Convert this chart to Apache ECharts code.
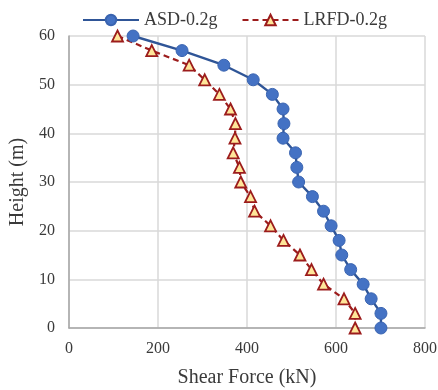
<!DOCTYPE html>
<html>
<head>
<meta charset="utf-8">
<script src="https://cdn.jsdelivr.net/npm/echarts@6/dist/echarts.min.js"></script>
<style>
  html, body { margin: 0; padding: 0; background: #fff; }
  #chart { width: 438px; height: 390px; }
</style>
</head>
<body>
<div id="chart"></div>
<script>
// Heights (m), top to bottom
const heights = [60, 57, 54, 51, 48, 45, 42, 39, 36, 33, 30, 27, 24, 21, 18, 15, 12, 9, 6, 3, 0];
// Shear force (kN) at each height
const asdShear = [144, 254, 348, 414, 457, 481, 483, 481, 509, 512, 516, 547, 572, 589, 607, 613, 633, 661, 679, 701, 701];
const lrfdShear = [109, 186, 270, 305, 338, 363, 374, 373, 369, 383, 386, 408, 417, 453, 482, 519, 545, 572, 618, 643, 643];
const xTicks = [0, 200, 400, 600, 800];
const yTicks = [0, 10, 20, 30, 40, 50, 60];

const fontFamily = '"Liberation Serif", "Times New Roman", serif';
const textColor = '#3a3a3a';

const chart = echarts.init(document.getElementById('chart'));

const option = {
	animation: false,
	textStyle: { fontFamily: fontFamily },
	legend: {
		top: 6,
		left: 77,
		itemWidth: 56,
		itemHeight: 13,
		itemGap: 24,
		textStyle: { fontFamily: fontFamily, fontSize: 18, color: textColor },
		data: ['ASD-0.2g', 'LRFD-0.2g']
	},
	grid: {
		left: 69,
		right: 13,
		top: 36,
		bottom: 62,
		outerBoundsMode: 'none',
		containLabel: false
	},
	xAxis: {
		type: 'value',
		min: xTicks[0],
		max: xTicks[xTicks.length - 1],
		interval: 200,
		name: 'Shear Force (kN)',
		nameLocation: 'middle',
		nameGap: 40,
		nameTextStyle: { fontFamily: fontFamily, fontSize: 20, color: textColor },
		axisLabel: { fontFamily: fontFamily, fontSize: 16, color: textColor, margin: 13 },
		axisLine: { show: true, lineStyle: { color: '#a6a6a6', width: 1.5 } },
		axisTick: { show: false },
		splitLine: { lineStyle: { color: '#d9d9d9', width: 1.5 } }
	},
	yAxis: {
		type: 'value',
		min: yTicks[0],
		max: yTicks[yTicks.length - 1],
		interval: 10,
		name: 'Height (m)',
		nameLocation: 'middle',
		nameGap: 37,
		nameTextStyle: { fontFamily: fontFamily, fontSize: 20, color: textColor },
		axisLabel: { fontFamily: fontFamily, fontSize: 16, color: textColor, margin: 14 },
		axisLine: { show: true, lineStyle: { color: '#a6a6a6', width: 1.5 } },
		axisTick: { show: false },
		splitLine: { lineStyle: { color: '#d9d9d9', width: 1.5 } }
	},
	series: [
		{
			name: 'ASD-0.2g',
			type: 'line',
			data: heights.map((h, i) => [asdShear[i], h]),
			symbol: 'circle',
			symbolSize: 12,
			lineStyle: { color: '#2f5597', width: 2.4 },
			itemStyle: { color: '#4472c4', borderColor: '#3a64b0', borderWidth: 1 },
			z: 3
		},
		{
			name: 'LRFD-0.2g',
			type: 'line',
			data: heights.map((h, i) => [lrfdShear[i], h]),
			symbol: 'triangle',
			symbolSize: 11,
			lineStyle: { color: '#9c1c1c', width: 2.2, type: [6, 4] },
			itemStyle: { color: '#ffe699', borderColor: '#9c1c1c', borderWidth: 1.8 },
			z: 2
		}
	]
};

chart.setOption(option);
</script>
</body>
</html>
